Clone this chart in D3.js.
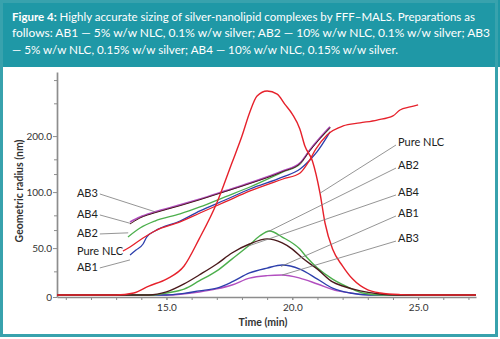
<!DOCTYPE html>
<html>
<head>
<meta charset="utf-8">
<script src="https://cdnjs.cloudflare.com/ajax/libs/d3/7.8.5/d3.min.js"></script>
<style>
  html, body { margin: 0; padding: 0; background: #fff; }
  svg { display: block; font-family: Lato, "Open Sans", sans-serif; }
</style>
</head>
<body>
<svg id="chart" width="500" height="339"></svg>
<script>
// axes
const timeDomain = [10.65, 27.3];          // min
const radiusDomain = [27.3, 442];          // nm, log axis; bottom is labelled "0"
const radiusMajor = [27.3, 50, 100, 200];
const radiusMinor = [37.5, 62.5, 75, 125, 150, 300, 400];
const timeMajor = [15, 20, 25];
const timeMinor = d3.range(11, 28);

const captionLines = [
  ["Figure 4:", " Highly accurate sizing of silver-nanolipid complexes by FFF\u2013MALS. Preparations as"],
  ["", "follows: AB1 \u2014 5% w/w NLC, 0.1% w/w silver; AB2 \u2014 10% w/w NLC, 0.1% w/w silver; AB3"],
  ["", "\u2014 5% w/w NLC, 0.15% w/w silver; AB4 \u2014 10% w/w NLC, 0.15% w/w silver."]
];

const colorMap = {
  "Pure NLC": "#e6212b",
  AB2: "#4caf4c",
  AB4: "#4a1a1c",
  AB1: "#2d3fac",
  AB3: "#b24fc0"
};

// light scattering signal, % of the Pure NLC maximum
const lsPureNLC = [[10.65,0],[13.0,0],[13.7,1],[14.3,4.4],[15.0,7.8],[15.7,14.2],[16.3,27.5],[17.0,45.1],[17.6,64.7],[18.0,77.9],[18.3,89.2],[18.6,97.5],[19.0,100],[19.4,98.5],[19.7,93.6],[20.0,88.7],[20.3,81.4],[20.5,73],[20.8,65.7],[21.1,50],[21.3,35.3],[21.6,22.5],[22.0,14.2],[22.4,7.8],[23.0,2.5],[23.5,1],[24.3,0.2],[25.0,0],[27.3,0]];
const lsAB2 = [[10.65,0],[14.5,0],[15.0,1],[15.7,2.9],[16.3,6.9],[17.0,11.8],[17.6,17.6],[18.3,24.5],[18.7,28.9],[19.1,31.4],[19.6,28.4],[20.3,22.5],[20.6,18.1],[21.0,13.2],[21.6,7.8],[22.3,3.4],[22.8,1],[23.5,0],[27.3,0]];
const lsAB4 = [[10.65,0],[14.3,0],[15.0,1.5],[15.7,5.4],[16.3,9.8],[17.0,15.2],[17.6,20.6],[18.3,25],[19.0,27.5],[19.6,25.5],[20.0,22.5],[20.4,18.1],[21.0,12.7],[21.6,6.4],[22.0,4.4],[22.7,2],[23.5,0.5],[24.2,0],[27.3,0]];
const lsAB1 = [[10.65,0],[15.0,0],[15.7,0.8],[16.3,2],[17.0,3.4],[17.6,6.4],[18.3,10.8],[19.0,13.2],[19.6,14.7],[20.3,12.7],[21.0,7.8],[21.6,3.4],[22.3,1],[23.1,0],[27.3,0]];
const lsAB3 = [[10.65,0],[15.0,0],[16.3,1.5],[17.0,3],[17.6,4.9],[18.3,8.3],[19.0,9.5],[19.6,9.8],[20.3,8.3],[21.0,5.4],[21.8,2],[22.3,1],[23.1,0],[27.3,0]];

// geometric radius (nm)
const rgAB2 = [[13.47,57.4],[13.95,64.1],[14.54,69.9],[15.54,76.3],[16.33,83.2],[17.33,94.2],[18.32,106.5],[19.63,128.3],[20.31,141.6],[20.70,168.5],[21.10,194.5],[21.50,221.2]];
const rgAB1 = [[13.55,45.9],[13.79,48.8],[14.07,52.6],[14.22,57.5],[14.54,61.8],[15.54,69.9],[16.33,79.2],[17.33,90.7],[18.32,103.9],[19.63,120.6],[20.31,133.1],[20.70,148.8],[20.98,164.3],[21.50,210.5]];
const rgPureNLC = [[13.27,48.2],[13.55,50.7],[14.07,56.7],[14.54,61.8],[15.54,69.1],[16.33,77.2],[17.33,88.5],[18.32,101.4],[19.63,117.6],[20.31,126.7],[20.62,143.4],[20.94,170.5],[21.38,202.8],[22.02,226.7],[22.69,235.3],[23.37,244.0],[24.00,256.6],[24.28,276.3],[24.68,286.7],[25.00,294.0]];
const rgAB3 = [[13.55,69.1],[13.95,73.5],[14.54,78.2],[15.54,85.3],[16.33,91.8],[17.33,101.4],[18.32,112.0],[19.63,129.9],[20.31,143.4],[20.70,168.4],[21.10,195.4],[21.50,224]];
const rgAB4 = [[13.55,67.4],[13.95,72.6],[14.54,77.4],[15.54,84.5],[16.33,91.0],[17.33,100.6],[18.32,111.2],[19.63,129.0],[20.31,142.5],[20.70,167.0],[21.10,194.0],[21.50,222.5]];

// callouts: label anchor and leader tip, [time, radius] on the left, [time, signal] on the right
const leftNotes = [
  { name: "AB3", label: [11.44, 98.9], tip: [14.54, 78.4] },
  { name: "AB4", label: [11.44, 76.3], tip: [13.55, 68.0] },
  { name: "AB2", label: [11.44, 60.3], tip: [13.48, 60.4] },
  { name: "Pure NLC", label: [11.44, 48.2], tip: null },
  { name: "AB1", label: [11.44, 39.6], tip: [13.55, 43.2] }
];
const rightNotes = [
  { name: "Pure NLC", label: [24.2, 75], tip: [21.1, 49.9] },
  { name: "AB2", label: [24.2, 63.7], tip: [19.03, 31] },
  { name: "AB4", label: [24.2, 50.5], tip: [18.25, 24] },
  { name: "AB1", label: [24.2, 40.2], tip: [19.55, 14] },
  { name: "AB3", label: [24.2, 27.9], tip: [19.6, 9.8] }
];

const svg = d3.select("#chart");
const teal = "#1f98a6";

// caption band and frame
svg.append("rect").attr("x", 0).attr("y", 0).attr("width", 500).attr("height", 67).attr("fill", teal);
svg.append("rect")
  .attr("x", 1.5).attr("y", 1.5).attr("width", 495).attr("height", 334)
  .attr("fill", "none").attr("stroke", "#38a2ad").attr("stroke-width", 3);

const captionWidths = [463, 478, 386];
captionLines.forEach(([bold, rest], i) => {
  const t = svg.append("text")
    .attr("x", 12).attr("y", 20.7 + i * 16.7)
    .attr("fill", "#fff").style("font-size", "11.6px")
    .attr("textLength", captionWidths[i]).attr("lengthAdjust", "spacingAndGlyphs");
  if (bold) t.append("tspan").attr("font-weight", 700).text(bold);
  t.append("tspan").text(rest);
});

const x = d3.scaleLinear().domain(timeDomain).range([57, 476]);
const yR = d3.scaleLog().domain(radiusDomain).range([297, 72]);
const yS = d3.scaleLinear().domain([0, 100]).range([295, 91]);

const axisColor = "#8d8d8d";
const styleAxis = sel => {
  sel.select(".domain").attr("stroke", axisColor).attr("stroke-width", 1.7);
  sel.selectAll(".tick line").attr("stroke", axisColor);
  sel.selectAll(".tick text").attr("fill", "#333").style("font-size", "10px").style("font-family", "Lato, sans-serif");
};

// minor ticks first, majors and domain on top
svg.append("g").attr("transform", "translate(57,0)")
  .call(d3.axisLeft(yR).tickValues(radiusMinor).tickFormat("").tickSize(3).tickSizeOuter(0))
  .call(styleAxis).call(g => g.select(".domain").remove());
svg.append("g").attr("transform", "translate(0,297)")
  .call(d3.axisBottom(x).tickValues(timeMinor).tickFormat("").tickSize(3).tickSizeOuter(0))
  .call(styleAxis).call(g => g.select(".domain").remove());

svg.append("g").attr("transform", "translate(57,0)")
  .call(d3.axisLeft(yR).tickValues(radiusMajor)
    .tickFormat(d => d === radiusDomain[0] ? "0" : d.toFixed(1))
    .tickSize(4).tickPadding(1).tickSizeOuter(0))
  .call(styleAxis);
svg.append("g").attr("transform", "translate(0,297)")
  .call(d3.axisBottom(x).tickValues(timeMajor).tickFormat(d3.format(".1f"))
    .tickSize(3).tickPadding(4).tickSizeOuter(0))
  .call(styleAxis);

svg.append("text")
  .attr("transform", "translate(19,191) rotate(-90)")
  .attr("text-anchor", "middle").attr("dy", "0.35em")
  .attr("fill", "#333").attr("font-weight", 700).style("font-size", "10.5px")
  .text("Geometric radius (nm)");
svg.append("text")
  .attr("x", 263).attr("y", 326)
  .attr("text-anchor", "middle")
  .attr("fill", "#333").attr("font-weight", 700).style("font-size", "10.5px")
  .text("Time (min)");

const plot = svg.append("g");

const radiusLine = d3.line().x(d => x(d[0])).y(d => yR(d[1])).curve(d3.curveMonotoneX);
const signalLine = d3.line().x(d => x(d[0])).y(d => yS(d[1])).curve(d3.curveMonotoneX);

const radiusSeries = [
  ["AB2", rgAB2, 1.3], ["AB1", rgAB1, 1.3], ["Pure NLC", rgPureNLC, 1.3],
  ["AB3", rgAB3, 1.8], ["AB4", rgAB4, 1.0]
];
const signalSeries = [
  ["AB3", lsAB3], ["AB1", lsAB1], ["AB2", lsAB2], ["AB4", lsAB4], ["Pure NLC", lsPureNLC]
];

plot.selectAll(".rg-line")
  .data(radiusSeries)
  .join("path")
  .attr("class", "rg-line")
  .attr("fill", "none")
  .attr("stroke", d => colorMap[d[0]])
  .attr("stroke-width", d => d[2])
  .attr("d", d => radiusLine(d[1]));

plot.selectAll(".ls-line")
  .data(signalSeries)
  .join("path")
  .attr("class", "ls-line")
  .attr("fill", "none")
  .attr("stroke", d => colorMap[d[0]])
  .attr("stroke-width", 1.4)
  .attr("d", d => signalLine(d[1]));

// callouts
const notes = svg.append("g").style("font-size", "11px").attr("fill", "#222");

leftNotes.forEach(n => {
  const lx = x(n.label[0]), ly = yR(n.label[1]);
  const t = notes.append("text").attr("x", lx).attr("y", ly).attr("dy", "0.35em").text(n.name);
  if (!n.tip) return;
  const w = t.node().getComputedTextLength();
  notes.append("line")
    .attr("x1", lx + w + 2).attr("y1", ly + 1)
    .attr("x2", x(n.tip[0])).attr("y2", yR(n.tip[1]))
    .attr("stroke", "#7a7a7a").attr("stroke-width", 0.8);
});

rightNotes.forEach(n => {
  const lx = x(n.label[0]), ly = yS(n.label[1]);
  notes.append("text").attr("x", lx).attr("y", ly).attr("dy", "0.35em").text(n.name);
  notes.append("line")
    .attr("x1", lx - 2).attr("y1", ly + 3)
    .attr("x2", x(n.tip[0])).attr("y2", yS(n.tip[1]))
    .attr("stroke", "#7a7a7a").attr("stroke-width", 0.8);
});
</script>
</body>
</html>
